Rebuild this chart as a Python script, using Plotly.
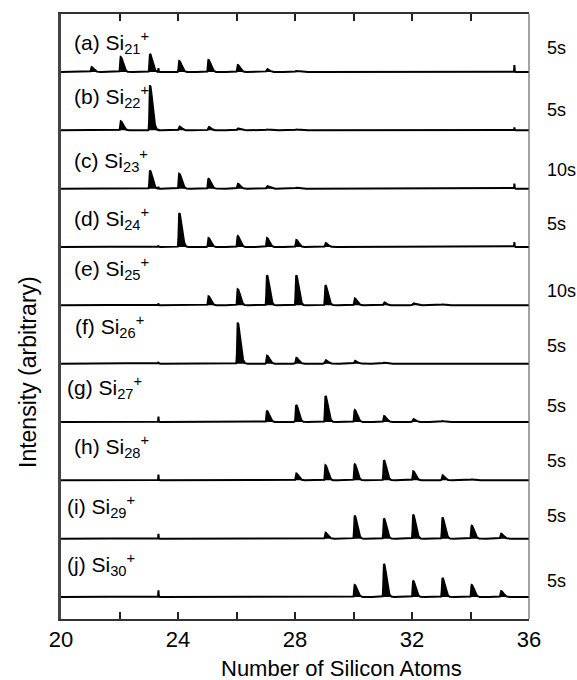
import numpy as np
import plotly.graph_objects as go

# Cluster sizes on the x axis (number of silicon atoms)
cluster_sizes = list(range(21, 36))

# Peak intensities (arbitrary units) for each photodissociation spectrum,
# listed for cluster sizes 21..35
parent_sizes = [21, 22, 23, 24, 25, 26, 27, 28, 29, 30]
panel_letters = ["a", "b", "c", "d", "e", "f", "g", "h", "i", "j"]
exposure = ["5s", "5s", "10s", "5s", "10s", "5s", "5s", "5s", "5s", "5s"]

#          21  22  23  24  25  26  27  28   29  30  31  32  33  34  35
si21 = [5, 15, 18, 11, 12, 7, 3, 1, 0, 0, 0, 0, 0, 0, 0]
si22 = [0, 9, 45, 4, 3.5, 2, 1, 1, 0, 0, 0, 0, 0, 0, 0]
si23 = [0, 0, 18, 15, 10, 5, 2.5, 1, 0, 0, 0, 0, 0, 0, 0]
si24 = [0, 0, 0, 34, 9, 11, 9, 7, 4, 0, 0, 0, 0, 0, 0]
si25 = [0, 0, 0, 0, 9, 16, 30, 30, 20, 7, 3, 2, 1, 0, 0]
si26 = [0, 0, 0, 0, 0, 41, 8, 6, 3.5, 3, 1, 0, 0, 0, 0]
si27 = [0, 0, 0, 0, 0, 0, 11, 17, 26, 12, 6, 3, 1, 0, 0]
si28 = [0, 0, 0, 0, 0, 0, 0, 7, 15, 16, 20, 9, 5, 1, 0]
si29 = [0, 0, 0, 0, 0, 0, 0, 0, 6, 23, 20, 24, 21, 13, 5]
si30 = [0, 0, 0, 0, 0, 0, 0, 0, 0, 12, 33, 16, 19, 12, 6]
spectra = [si21, si22, si23, si24, si25, si26, si27, si28, si29, si30]

# Narrow instrumental spikes that appear in the traces
spike_positions = [23.33, 35.5]
spike_heights = [
    [4, 7], [1, 3], [2, 5], [1, 5], [2, 0],
    [1, 0], [5.5, 0], [6, 0], [5, 0], [7, 0],
]

panel_spacing = 58.3
x = np.arange(20.0, 36.0001, 0.004)


def peak_shape(xs, center, rise=0.016, fall=0.085):
    """Asymmetric mass peak: steep leading edge, slower trailing edge."""
    d = xs - center
    sigma = np.where(d < 0, rise, fall)
    return np.exp(-0.5 * (d / sigma) ** 2)


fig = go.Figure()
n_panels = len(spectra)
for k, (values, spikes) in enumerate(zip(spectra, spike_heights)):
    offset = (n_panels - 1 - k) * panel_spacing
    signal = np.zeros_like(x)
    for size, h in zip(cluster_sizes, values):
        if h:
            signal += h * peak_shape(x, size + 0.04)
    for pos, h in zip(spike_positions, spikes):
        if h:
            signal += h * peak_shape(x, pos, 0.006, 0.008)
    fig.add_trace(go.Scatter(
        x=[20, 36], y=[offset, offset], mode="lines",
        line=dict(color="black", width=0), hoverinfo="skip", showlegend=False,
    ))
    fig.add_trace(go.Scatter(
        x=x, y=offset + signal, mode="lines",
        line=dict(color="black", width=2), fill="tonexty", fillcolor="black",
        showlegend=False,
    ))

FONT = "Liberation Sans, Arial, Helvetica, sans-serif"
L, R, T, B = 61, 529, 14, 619
W, H = R - L, B - T


def px_x(p):
    return (p - L) / W


def px_y(p):
    return (B - p) / H


label_pos = [(71.7, 42), (71.7, 96), (71.7, 160), (71.7, 218), (71.7, 268),
             (72.7, 327), (65, 387), (71.7, 447), (65, 506), (65, 564)]
exposure_y = [47.7, 110, 170, 223.7, 290.7, 345.7, 405.7, 460.7, 516, 580.7]

annotations = []
for k in range(n_panels):
    lx, ly = label_pos[k]
    annotations.append(dict(
        text=f"({panel_letters[k]}) Si<sub>{parent_sizes[k]}</sub><sup>+</sup>",
        x=px_x(lx), y=px_y(ly), xref="paper", yref="paper",
        xanchor="left", yanchor="middle", showarrow=False,
        font=dict(family=FONT, size=21, color="black"),
    ))
    annotations.append(dict(
        text=exposure[k], x=px_x(545), y=px_y(exposure_y[k]),
        xref="paper", yref="paper", xanchor="left", yanchor="middle",
        showarrow=False, font=dict(family=FONT, size=18, color="black"),
    ))

annotations.append(dict(
    text="Number of Silicon Atoms", x=px_x(341.5), y=px_y(668),
    xref="paper", yref="paper", xanchor="center", yanchor="middle",
    showarrow=False, font=dict(family=FONT, size=22, color="black"),
))
annotations.append(dict(
    text="Intensity (arbitrary)", x=px_x(27.5), y=px_y(372.5),
    xref="paper", yref="paper", xanchor="center", yanchor="middle",
    textangle=-90, showarrow=False, font=dict(family=FONT, size=23, color="black"),
))

tick_vals = list(range(20, 37, 2))
tick_text = [str(v) if v % 4 == 0 else "" for v in tick_vals]

fig.update_layout(
    width=577, height=680,
    margin=dict(l=L, r=577 - R, t=T, b=680 - B),
    paper_bgcolor="white", plot_bgcolor="white",
    showlegend=False,
    annotations=annotations,
    xaxis=dict(
        range=[20, 36], tickvals=tick_vals, ticktext=tick_text,
        ticks="inside", ticklen=7, tickwidth=1.5, tickcolor="#222",
        showline=True, linewidth=2, linecolor="#333", mirror="ticks",
        showgrid=False, zeroline=False,
        tickfont=dict(family=FONT, size=22, color="black"),
    ),
    yaxis=dict(
        range=[-22, 9 * panel_spacing + 58], showticklabels=False, ticks="",
        showline=True, linewidth=2.5, linecolor="#444", mirror=False,
        showgrid=False, zeroline=False,
    ),
    shapes=[dict(type="line", xref="paper", yref="paper", x0=1, x1=1, y0=0, y1=1,
                 line=dict(color="#666", width=1.2))],
)

fig.write_html("out.html")
